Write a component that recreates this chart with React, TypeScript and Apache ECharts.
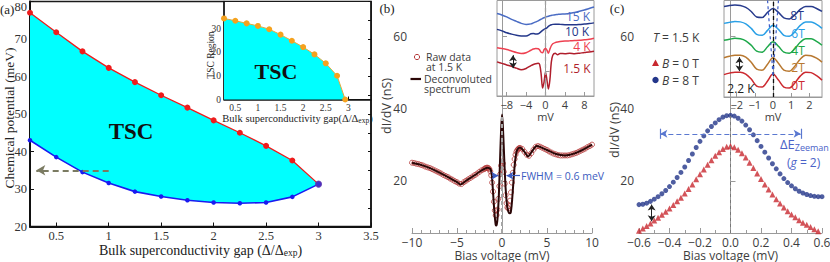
import React, { useEffect, useRef } from "react";
import * as echarts from "echarts";

// ---------- Panel (a) ----------
const gapA = [0.25, 0.5, 0.75, 1, 1.25, 1.5, 1.75, 2, 2.25, 2.5, 2.75, 3];
const upperMu = [77, 71.8, 66.7, 62.3, 58.5, 55, 51.7, 48.3, 45, 41.5, 37.6, 31.3];
const lowerMu = [43, 38.5, 34.5, 31.6, 29.3, 28, 27, 26.4, 26.2, 26.4, 27.9, 31.3];
const xTicksA = [0.5, 1, 1.5, 2, 2.5, 3, 3.5];
const yTicksA = [20, 30, 40, 50, 60, 70];
const gapInset = [0.25, 0.5, 0.75, 1, 1.25, 1.5, 1.75, 2, 2.25, 2.5, 2.75, 2.93];
const tscRegion = [34.5, 33.5, 32.4, 31.3, 29.9, 27.6, 25, 22.3, 19.2, 15.4, 10.1, 0];
const xTicksInsetA = [0.5, 1, 1.5, 2, 2.5, 3];
const yTicksInsetA = [0, 10, 20, 30];

// ---------- Panel (b) ----------
const rawBias = [
  -10, -9.75, -9.5, -9.25, -9, -8.75, -8.5, -8.25, -8, -7.75, -7.5, -7.25, -7, -6.75, -6.5, -6.25, -6,
  -5.75, -5.5, -5.25, -5, -4.75, -4.5, -4.25, -4, -3.75, -3.5, -3.25, -3, -2.75, -2.5, -2.25, -2,
  -1.9, -1.8, -1.7, -1.6, -1.5, -1.4, -1.3, -1.2, -1.1, -1, -0.9, -0.8, -0.7, -0.6, -0.5, -0.4, -0.3,
  -0.2, -0.1, 0, 0.1, 0.2, 0.3, 0.4, 0.5, 0.6, 0.7, 0.8, 0.9, 1, 1.1, 1.2, 1.3, 1.4, 1.5, 1.6, 1.7, 1.8, 1.9,
  2, 2.25, 2.5, 2.75, 3, 3.25, 3.5, 3.75, 4, 4.25, 4.5, 4.75, 5, 5.25, 5.5, 5.75, 6, 6.25, 6.5, 6.75,
  7, 7.25, 7.5, 7.75, 8, 8.25, 8.5, 8.75, 9, 9.25, 9.5, 9.75, 10,
];
const rawDidv = [
  25.0, 24.9, 24.7, 24.6, 24.4, 24.2, 23.9, 23.7, 23.5, 23.2, 22.9, 22.6, 22.3, 22.0, 21.6, 21.3, 21.0,
  20.6, 20.3, 19.9, 19.6, 19.2, 19.1, 19.6, 20.0, 20.4, 20.8, 21.2, 21.6, 22.0, 22.5, 22.9, 23.2,
  23.4, 23.5, 23.6, 23.6, 23.5, 23.2, 22.6, 21.5, 19.5, 17.0, 14.2, 11.8, 10.4, 10.5, 12.0, 15.0, 18.5,
  21.8, 24.2, 25.3, 24.8, 22.5, 19.2, 16.0, 13.8, 12.6, 12.4, 13.0, 14.5, 16.8, 19.5, 22.2, 24.4, 26.0, 27.2, 28.0, 28.5, 28.8, 29.0,
  29.1, 28.8, 28.0, 27.2, 26.9, 27.6, 28.6, 29.4, 29.6, 29.4, 29.1, 28.8, 28.5, 28.1, 27.8, 27.5, 27.3, 27.1, 27.0, 27.0,
  27.0, 27.0, 27.1, 27.3, 27.5, 27.7, 28.0, 28.3, 28.6, 28.9, 29.3, 29.6, 30.0,
];
const deconvBias = [
  -10, -9, -8, -7, -6, -5, -4.6, -4, -3, -2.5, -2, -1.6, -1.3, -1.15, -1.0, -0.85, -0.7, -0.6, -0.5, -0.35,
  -0.2, -0.1, 0, 0.1, 0.25, 0.4, 0.55, 0.7, 0.85, 0.97, 1.1, 1.25, 1.4, 1.55, 1.7, 2, 2.5, 2.9, 3.3, 3.85,
  4.3, 5, 6, 7, 8, 9, 10,
];
const deconvDidv = [
  25, 24.4, 23.5, 22.3, 21, 19.6, 19, 20, 21.6, 22.5, 23.2, 23.6, 23.3, 22, 17, 11.5, 7.8, 7.6, 9.5, 16,
  27, 34, 38.3, 35, 26, 18, 13.5, 11.5, 11, 11.2, 14, 19, 24, 27.2, 28.6, 29.2, 28, 26.7, 28, 29.6,
  29.3, 28.5, 27.4, 27, 27.5, 28.6, 30,
];
const yTicksBC = [20, 40, 60];

// inset (b): offset spectra (arbitrary units)
const insetBiasB = [-10, -9, -8, -7, -6, -5, -4, -3, -2.5, -2, -1.5, -1.2, -0.9, -0.6, -0.3, 0, 0.3, 0.6, 0.9, 1.2, 1.5, 2, 2.5, 3, 4, 5, 6, 7, 8, 9, 10];
const spec15K = [83, 81.5, 79.5, 77, 75, 73, 72, 72.5, 73.5, 74.5, 75.5, 76.5, 77.2, 78, 78.7, 79.3, 79.8, 80.2, 80.7, 81, 81.3, 81.7, 82, 82.3, 82.5, 83, 84, 85.2, 86.5, 88, 89.5];
const spec10K = [67, 65.5, 63.5, 62.2, 61, 60.3, 60.2, 62.5, 62.8, 62.2, 62.5, 63.5, 64.7, 66, 67, 67.7, 68.5, 70, 71, 71.7, 72, 72.2, 72.2, 72, 71.7, 71.5, 71.5, 71.8, 72.3, 72.8, 73.5];
const spec4K = [48.5, 47.7, 46.7, 45.2, 43.7, 42.7, 43.5, 46, 47.2, 47.8, 47.5, 46.2, 44, 43.5, 46.5, 48, 46, 43, 47, 50.5, 52.5, 53.7, 54.3, 54.7, 55.2, 55.5, 55.8, 56, 56.5, 57, 58];
const spec1p5K = [34.3, 32.8, 31.2, 29.8, 28, 26.3, 27.7, 30.5, 31.7, 32.5, 32.8, 31.5, 22, 8, 14, 24, 16, 7, 16, 34, 41, 43, 41.5, 42.7, 42.5, 43, 42.5, 43, 43.7, 44.2, 45];
const xTicksInsetB = [-8, -4, 0, 4, 8];

// ---------- Panel (c) ----------
const biasC = [
  -0.6, -0.575, -0.55, -0.525, -0.5, -0.475, -0.45, -0.425, -0.4, -0.375, -0.35, -0.325, -0.3, -0.275, -0.25,
  -0.225, -0.2, -0.175, -0.15, -0.125, -0.1, -0.075, -0.05, -0.025, 0, 0.025, 0.05, 0.075, 0.1, 0.125, 0.15,
  0.175, 0.2, 0.225, 0.25, 0.275, 0.3, 0.325, 0.35, 0.375, 0.4, 0.425, 0.45, 0.475, 0.5, 0.525, 0.55, 0.575, 0.6,
];
const didv0T = [
  6.2, 6.8, 7.5, 8.2, 9.0, 9.8, 10.6, 11.4, 12.3, 13.3, 14.3, 15.3, 16.5, 17.7, 19.0,
  20.4, 21.8, 23.1, 24.4, 25.7, 26.9, 27.9, 28.8, 29.4, 29.6, 29.3, 28.6, 27.6, 26.4, 25.0, 23.5,
  22.0, 20.5, 19.0, 17.6, 16.2, 14.9, 13.7, 12.6, 11.6, 10.7, 9.9, 9.1, 8.4, 7.8, 7.2, 6.6, 6.0, 5.5,
];
const didv8T = [
  13.4, 13.5, 13.8, 14.3, 14.9, 15.6, 16.4, 17.3, 18.4, 19.6, 20.9, 22.3, 23.8, 25.6, 27.4,
  29.2, 30.9, 32.4, 33.8, 35.0, 36.0, 36.9, 37.6, 38.0, 38.1, 37.9, 37.3, 36.5, 35.4, 34.1, 32.7,
  31.1, 29.5, 27.9, 26.3, 24.7, 23.3, 21.9, 20.6, 19.5, 18.6, 17.8, 17.1, 16.6, 16.2, 15.9, 15.7, 15.6, 15.6,
];

// inset (c): offset spectra at 2.2 K
const insetBiasC = [-2.7, -2.4, -2.1, -1.8, -1.5, -1.2, -0.9, -0.6, -0.3, 0, 0.3, 0.6, 0.9, 1.2, 1.5, 1.8, 2.1, 2.4, 2.7];
const spec0T = [22.5, 24, 25, 25, 23, 18, 11, 10, 16, 23, 17, 10, 9, 14, 21, 25, 24.5, 21.5, 17];
const spec2T = [39.5, 41, 42, 42, 40, 35, 28, 27, 33, 39.5, 34, 27, 26, 31, 38, 42, 41.5, 39, 35];
const spec4T = [57, 58, 59, 58.5, 56.5, 52, 46, 45, 50.5, 55.5, 51, 45, 44, 48.5, 55, 58.5, 58.5, 56, 52];
const spec6T = [74, 75, 76, 75.5, 73.5, 69, 63, 62, 67, 72, 68, 62, 61, 65.5, 72, 75.5, 75.5, 73, 69];
const spec8T = [91, 92, 92.5, 92, 90, 86, 80.5, 80, 85, 89, 85, 79.5, 78.5, 82.5, 88, 91, 91, 89, 86];
const xTicksInsetC = [-2, -1, 0, 1, 2];

const serif = '"Liberation Serif", "Times New Roman", serif';
const sans = '"Open Sans", "Noto Sans", sans-serif';
const CYAN = "#00ffff";
const GREY = "#9a9a9a";
const TXT = "#3d3d3d";

const pairs = (xs: number[], ys: number[]) => xs.map((x, i) => [x, ys[i]]);
const minus = (v: number) => (v < 0 ? "\u2212" : "") + Math.abs(v);
const minus1 = (v: number) => (v < 0 ? "\u2212" : "") + Math.abs(v).toFixed(1);

const seg = (a: number[], b: number[], s0: string, s1: string, lineStyle: any, symbolSize: any = [7, 8]) => [
  { coord: a, symbol: s0, symbolSize, lineStyle },
  { coord: b, symbol: s1, symbolSize },
];

function buildOption(): any {
  const last = gapA.length - 1;
  const sansAxisX = (gridIndex: number, extra: any) => ({
    gridIndex,
    type: "value",
    nameMoveOverlap: false,
    axisLine: { lineStyle: { color: GREY, width: 1 } },
    axisTick: { inside: true, length: 5, lineStyle: { color: GREY } },
    splitLine: { show: false },
    nameTextStyle: { fontFamily: sans, fontSize: 12, color: TXT, lineHeight: 12 },
    ...extra,
  });
  const italic = { i: { fontFamily: sans, fontSize: 12, fontStyle: "italic", fill: TXT } };

  return {
    animation: false,
    backgroundColor: "#fff",
    grid: [
      { left: 30, top: 1.5, width: 341, height: 225, show: true, borderColor: "#1a1a1a", borderWidth: 1.5, backgroundColor: "transparent", outerBoundsMode: "none" },
      { left: 224, top: 1.5, width: 147, height: 98, show: true, borderColor: "#1a1a1a", borderWidth: 1, backgroundColor: "#fff", outerBoundsMode: "none" },
      { left: 412, top: 0, width: 180, height: 233, outerBoundsMode: "none" },
      { left: 497, top: 0.5, width: 97, height: 95.5, show: true, borderColor: GREY, borderWidth: 1, backgroundColor: "#fff", outerBoundsMode: "none" },
      { left: 639, top: 0, width: 183, height: 233, outerBoundsMode: "none" },
      { left: 724, top: 0.5, width: 98, height: 96.5, show: true, borderColor: GREY, borderWidth: 1, backgroundColor: "#fff", outerBoundsMode: "none" },
    ],
    xAxis: [
      {
        gridIndex: 0, type: "value", min: 0.25, max: 3.5, nameMoveOverlap: false,
        axisLine: { lineStyle: { color: "#111", width: 2 } },
        axisTick: { inside: true, length: 4, customValues: xTicksA, lineStyle: { color: "#111" } },
        axisLabel: { customValues: xTicksA, fontFamily: serif, fontSize: 12.5, color: "#333", margin: 3, lineHeight: 13 },
        splitLine: { show: false },
        name: "Bulk superconductivity gap (\u0394/\u0394{s|exp})",
        nameLocation: "middle", nameGap: 17,
        nameTextStyle: { fontFamily: serif, fontSize: 14, color: "#222", lineHeight: 14, rich: { s: { fontFamily: serif, fontSize: 9.5, color: "#222", lineHeight: 10, padding: [4, 0, 0, 0] } } },
      },
      {
        gridIndex: 1, type: "value", min: 0.25, max: 3.5, nameMoveOverlap: false,
        axisLine: { lineStyle: { color: "#111", width: 1.5 } },
        axisTick: { inside: true, length: 3, customValues: xTicksInsetA, lineStyle: { color: "#111" } },
        axisLabel: { customValues: xTicksInsetA, fontFamily: serif, fontSize: 9.5, color: "#333", margin: 3, lineHeight: 10 },
        splitLine: { show: false },
        name: "Bulk superconductivity gap(\u0394/\u0394{s|exp})",
        nameLocation: "middle", nameGap: 13,
        nameTextStyle: { fontFamily: serif, fontSize: 10.5, color: "#222", lineHeight: 11, rich: { s: { fontFamily: serif, fontSize: 7.5, color: "#222", lineHeight: 8, padding: [4, 0, 0, 0] } } },
      },
      sansAxisX(2, {
        min: -10, max: 10, interval: 5,
        minorTick: { show: true, splitNumber: 5, length: 3, lineStyle: { color: GREY } },
        axisLabel: { fontFamily: sans, fontSize: 12, color: TXT, margin: 3, lineHeight: 12, formatter: minus },
        name: "Bias voltage (mV)", nameLocation: "middle", nameGap: 16,
      }),
      sansAxisX(3, {
        min: -10, max: 10,
        axisTick: { inside: true, length: 4, customValues: xTicksInsetB, lineStyle: { color: GREY } },
        axisLabel: { customValues: xTicksInsetB, fontFamily: sans, fontSize: 11, color: TXT, margin: 3, lineHeight: 11, formatter: minus },
        name: "mV", nameLocation: "middle", nameGap: 15,
        nameTextStyle: { fontFamily: sans, fontSize: 11, color: TXT, lineHeight: 11 },
      }),
      sansAxisX(4, {
        min: -0.6, max: 0.6, interval: 0.2,
        minorTick: { show: true, splitNumber: 2, length: 3, lineStyle: { color: GREY } },
        axisLabel: { fontFamily: sans, fontSize: 12, color: TXT, margin: 3, lineHeight: 12, formatter: minus1 },
        name: "Bias voltage (mV)", nameLocation: "middle", nameGap: 16,
      }),
      sansAxisX(5, {
        min: -2.7, max: 2.7,
        axisTick: { inside: true, length: 4, customValues: xTicksInsetC, lineStyle: { color: GREY } },
        axisLabel: { customValues: xTicksInsetC, fontFamily: sans, fontSize: 11, color: TXT, margin: 2, lineHeight: 11, formatter: minus },
        name: "mV", nameLocation: "middle", nameGap: 14,
        nameTextStyle: { fontFamily: sans, fontSize: 11, color: TXT, lineHeight: 11 },
      }),
    ],
    yAxis: [
      {
        gridIndex: 0, type: "value", min: 20, max: 80, interval: 10,
        axisLine: { show: true, lineStyle: { color: "#111", width: 2 } },
        axisTick: { inside: true, length: 4, lineStyle: { color: "#111" } },
        axisLabel: { customValues: yTicksA, fontFamily: serif, fontSize: 12.5, color: "#333", margin: 3 },
        splitLine: { show: false },
      },
      {
        gridIndex: 0, type: "value", position: "right", min: 20, max: 80, interval: 5,
        axisLine: { show: true, lineStyle: { color: "#111", width: 1.5 } },
        axisTick: { inside: true, length: 3, lineStyle: { color: "#111" } },
        axisLabel: { show: false }, splitLine: { show: false },
      },
      {
        gridIndex: 1, type: "value", min: 0, max: 41.7,
        axisLine: { show: true, lineStyle: { color: "#111", width: 1.5 } },
        axisTick: { inside: true, length: 3, customValues: yTicksInsetA, lineStyle: { color: "#111" } },
        axisLabel: { customValues: yTicksInsetA, fontFamily: serif, fontSize: 9.5, color: "#333", margin: 3 },
        splitLine: { show: false },
      },
      {
        gridIndex: 2, type: "value", min: 5.55, max: 70,
        axisLine: { show: true, lineStyle: { color: GREY, width: 1 } },
        axisTick: { inside: true, length: 5, customValues: yTicksBC, lineStyle: { color: GREY } },
        axisLabel: { customValues: yTicksBC, fontFamily: sans, fontSize: 12, color: TXT, margin: 5 },
        splitLine: { show: false },
      },
      {
        gridIndex: 3, type: "value", min: 0, max: 96,
        axisLine: { show: true, lineStyle: { color: GREY, width: 1 } },
        axisTick: { inside: true, length: 4, customValues: [25], lineStyle: { color: GREY } },
        axisLabel: { show: false }, splitLine: { show: false },
      },
      {
        gridIndex: 4, type: "value", min: 5.55, max: 70,
        axisLine: { show: true, lineStyle: { color: GREY, width: 1 } },
        axisTick: { inside: true, length: 5, customValues: yTicksBC, lineStyle: { color: GREY } },
        axisLabel: { customValues: yTicksBC, fontFamily: sans, fontSize: 12, color: TXT, margin: 5 },
        splitLine: { show: false },
      },
      {
        gridIndex: 5, type: "value", min: 0, max: 97,
        axisLine: { show: true, lineStyle: { color: GREY, width: 1 } },
        axisTick: { show: false }, axisLabel: { show: false }, splitLine: { show: false },
      },
    ],
    series: [
      // ----- (a) main: TSC region between the two boundaries -----
      {
        type: "custom", xAxisIndex: 0, yAxisIndex: 0, silent: true, z: 1,
        data: [[gapA[0], upperMu[0]]],
        renderItem: (_p: any, api: any) => {
          const top = gapA.map((x, i) => api.coord([x, upperMu[i]]));
          const bottom = gapA.map((x, i) => api.coord([x, lowerMu[i]])).reverse();
          return { type: "polygon", shape: { points: top.concat(bottom) }, style: { fill: CYAN } };
        },
      },
      {
        type: "line", xAxisIndex: 0, yAxisIndex: 0, data: pairs(gapA, upperMu),
        symbol: "circle", symbolSize: 6, itemStyle: { color: "#ee1c1c" }, lineStyle: { color: "#ee1c1c", width: 1.3 }, z: 3,
      },
      {
        type: "line", xAxisIndex: 0, yAxisIndex: 0, data: pairs(gapA, lowerMu),
        symbol: "circle", symbolSize: 4.5, itemStyle: { color: "#1a1af0" }, lineStyle: { color: "#1a1af0", width: 1.6 }, z: 3,
        markLine: {
          silent: true, label: { show: false },
          data: [seg([1.0, 35], [0.31, 35], "none", "arrow", { color: "#7b7b62", type: [6, 4], width: 2 }, [8, 9])],
        },
      },
      {
        type: "scatter", xAxisIndex: 0, yAxisIndex: 0, data: [[gapA[last], upperMu[last]]],
        symbolSize: 7, itemStyle: { color: "#4536c8" }, z: 4,
      },
      // ----- (a) inset -----
      {
        type: "line", xAxisIndex: 1, yAxisIndex: 2, data: pairs(gapInset, tscRegion),
        symbol: "circle", symbolSize: 6, itemStyle: { color: "#f5a21e" }, lineStyle: { color: "#e9a83a", width: 1 },
        areaStyle: { color: CYAN, opacity: 1 }, z: 3,
      },
      // ----- (b) main -----
      {
        type: "scatter", xAxisIndex: 2, yAxisIndex: 3, data: pairs(rawBias, rawDidv),
        symbol: "circle", symbolSize: 5, itemStyle: { color: "rgba(0,0,0,0)", borderColor: "#b5393a", borderWidth: 1 }, z: 2,
        markLine: {
          silent: true, label: { show: false },
          data: [seg([0, 5.55], [0, 38.3], "none", "none", { color: "#a5a5a5", type: [4, 3], width: 2 })],
        },
      },
      {
        type: "line", xAxisIndex: 2, yAxisIndex: 3, data: pairs(deconvBias, deconvDidv), smooth: 0.25,
        symbol: "none", lineStyle: { color: "#2b0707", width: 2 }, z: 3,
        markLine: {
          silent: true, label: { show: false },
          data: [
            seg([-1.1, 21.4], [-0.4, 21.4], "none", "arrow", { color: "#3c5cc0", type: "solid", width: 1.2 }, [6, 7]),
            seg([2.0, 21.4], [0.5, 21.4], "none", "arrow", { color: "#3c5cc0", type: "solid", width: 1.2 }, [6, 7]),
          ],
        },
      },
      // ----- (b) inset -----
      {
        type: "line", xAxisIndex: 3, yAxisIndex: 4, data: pairs(insetBiasB, spec15K), smooth: 0.3, symbol: "none",
        lineStyle: { color: "#4a6cc4", width: 1.5 }, z: 3,
        markLine: {
          silent: true, label: { show: false },
          data: [
            seg([0, 0], [0, 96], "none", "none", { color: "#a0a0a0", type: [4, 3], width: 1.3 }),
            seg([-6.7, 41], [-6.7, 28], "arrow", "arrow", { color: "#222", type: "solid", width: 1 }, [6, 6]),
          ],
        },
      },
      { type: "line", xAxisIndex: 3, yAxisIndex: 4, data: pairs(insetBiasB, spec10K), smooth: 0.3, symbol: "none", lineStyle: { color: "#24378a", width: 1.5 }, z: 3 },
      { type: "line", xAxisIndex: 3, yAxisIndex: 4, data: pairs(insetBiasB, spec4K), smooth: 0.3, symbol: "none", lineStyle: { color: "#ee4050", width: 1.5 }, z: 3 },
      { type: "line", xAxisIndex: 3, yAxisIndex: 4, data: pairs(insetBiasB, spec1p5K), smooth: 0.3, symbol: "none", lineStyle: { color: "#b01e2c", width: 1.5 }, z: 3 },
      // ----- (c) main -----
      {
        type: "scatter", xAxisIndex: 4, yAxisIndex: 5, data: pairs(biasC, didv0T),
        symbol: "triangle", symbolSize: 6, itemStyle: { color: "#c8282f" }, z: 3,
        markLine: {
          silent: true, label: { show: false },
          data: [
            seg([0, 5.55], [0, 38], "none", "none", { color: "#777", type: [3, 3], width: 1 }),
            seg([-0.517, 8.8], [-0.517, 13.4], "arrow", "arrow", { color: "#222", type: "solid", width: 1 }, [6, 6]),
          ],
        },
      },
      {
        type: "scatter", xAxisIndex: 4, yAxisIndex: 5, data: pairs(biasC, didv8T),
        symbol: "circle", symbolSize: 5, itemStyle: { color: "#23368a" }, z: 3,
        markLine: {
          silent: true, label: { show: false },
          data: [
            seg([-0.46, 33], [0.46, 33], "arrow", "arrow", { color: "#5a78d0", type: [5, 3], width: 1.2 }, [6, 7]),
            seg([-0.463, 31.6], [-0.463, 34.4], "none", "none", { color: "#5a78d0", type: "solid", width: 1.2 }),
            seg([0.463, 31.6], [0.463, 34.4], "none", "none", { color: "#5a78d0", type: "solid", width: 1.2 }),
          ],
        },
      },
      // ----- (c) inset -----
      {
        type: "line", xAxisIndex: 5, yAxisIndex: 6, data: pairs(insetBiasC, spec0T), smooth: 0.35, symbol: "none",
        lineStyle: { color: "#cc2a30", width: 1.5 }, z: 3,
        markLine: {
          silent: true, label: { show: false },
          data: [
            seg([0, 0], [0, 97], "none", "none", { color: "#111", type: [4, 3], width: 1.3 }),
            seg([0, 22], [-0.3, 97], "none", "none", { color: "#3c5cc8", type: [3, 3], width: 1.2 }),
            seg([0, 22], [0.3, 97], "none", "none", { color: "#3c5cc8", type: [3, 3], width: 1.2 }),
            seg([-1.85, 40], [-1.85, 26], "arrow", "arrow", { color: "#222", type: "solid", width: 1 }, [6, 6]),
          ],
        },
      },
      { type: "line", xAxisIndex: 5, yAxisIndex: 6, data: pairs(insetBiasC, spec2T), smooth: 0.35, symbol: "none", lineStyle: { color: "#b87830", width: 1.5 }, z: 3 },
      { type: "line", xAxisIndex: 5, yAxisIndex: 6, data: pairs(insetBiasC, spec4T), smooth: 0.35, symbol: "none", lineStyle: { color: "#1ea84a", width: 1.5 }, z: 3 },
      { type: "line", xAxisIndex: 5, yAxisIndex: 6, data: pairs(insetBiasC, spec6T), smooth: 0.35, symbol: "none", lineStyle: { color: "#2aa0e6", width: 1.5 }, z: 3 },
      { type: "line", xAxisIndex: 5, yAxisIndex: 6, data: pairs(insetBiasC, spec8T), smooth: 0.35, symbol: "none", lineStyle: { color: "#263a8c", width: 1.5 }, z: 3 },
    ],
    graphic: [
      { type: "text", x: 0, y: 9, style: { text: "(a)", font: `13px ${serif}`, fill: "#222", align: "left", verticalAlign: "middle" } },
      { type: "text", x: 27, y: 6.5, style: { text: "80", font: `12.5px ${serif}`, fill: "#333", align: "right", verticalAlign: "middle" } },
      { type: "text", x: 387, y: 8, style: { text: "(b)", font: `13px ${serif}`, fill: "#222", align: "center", verticalAlign: "middle" } },
      { type: "text", x: 617, y: 8, style: { text: "(c)", font: `13px ${serif}`, fill: "#222", align: "center", verticalAlign: "middle" } },
      { type: "text", x: 9, y: 118, rotation: Math.PI / 2, style: { text: "Chemical potential (meV)", font: `13.5px ${serif}`, fill: "#222", align: "center", verticalAlign: "middle" } },
      { type: "text", x: 131, y: 131, z: 20, style: { text: "TSC", font: `bold 23px ${serif}`, fill: "#111", align: "center", verticalAlign: "middle" } },
      { type: "text", x: 276, y: 71, z: 20, style: { text: "TSC", font: `bold 22px ${serif}`, fill: "#111", align: "center", verticalAlign: "middle" } },
      { type: "text", x: 211, y: 55, rotation: Math.PI / 2, z: 20, style: { text: "TSC Region", font: `9.5px ${serif}`, fill: "#222", align: "center", verticalAlign: "middle" } },
      // legend (b)
      { type: "circle", z: 20, shape: { cx: 417, cy: 57, r: 2.6 }, style: { fill: "none", stroke: "#b5393a", lineWidth: 1 } },
      { type: "text", x: 426, y: 51.5, z: 20, style: { text: "Raw data\nat 1.5 K", font: `10.5px ${sans}`, lineHeight: 10.5, fill: TXT, align: "left", verticalAlign: "top" } },
      { type: "line", z: 20, shape: { x1: 410.5, y1: 79, x2: 421, y2: 79 }, style: { stroke: "#2b0707", lineWidth: 2.2 } },
      { type: "text", x: 424, y: 73.5, z: 20, style: { text: "Deconvoluted\nspectrum", font: `10.5px ${sans}`, lineHeight: 10.5, fill: TXT, align: "left", verticalAlign: "top" } },
      { type: "text", x: 521, y: 176, z: 20, style: { text: "FWHM = 0.6 meV", font: `10.5px ${sans}`, fill: "#3c5cc0", align: "left", verticalAlign: "middle" } },
      { type: "text", x: 386, y: 106, rotation: Math.PI / 2, z: 20, style: { text: "dI/dV (nS)", font: `12.5px ${sans}`, fill: TXT, align: "center", verticalAlign: "middle" } },
      // inset (b) labels
      { type: "text", x: 578, y: 16, z: 20, style: { text: "15 K", font: `12px ${sans}`, fill: "#4a6cc4", align: "center", verticalAlign: "middle" } },
      { type: "text", x: 577, y: 31, z: 20, style: { text: "10 K", font: `12px ${sans}`, fill: "#24378a", align: "center", verticalAlign: "middle" } },
      { type: "text", x: 582, y: 46, z: 20, style: { text: "4 K", font: `12px ${sans}`, fill: "#ee4050", align: "center", verticalAlign: "middle" } },
      { type: "text", x: 577, y: 68, z: 20, style: { text: "1.5 K", font: `12px ${sans}`, fill: "#b01e2c", align: "center", verticalAlign: "middle" } },
      // panel (c) texts
      { type: "text", x: 614, y: 130, rotation: Math.PI / 2, z: 20, style: { text: "dI/dV (nS)", font: `12.5px ${sans}`, fill: TXT, align: "center", verticalAlign: "middle" } },
      { type: "text", x: 653, y: 37, z: 20, style: { text: "{i|T} = 1.5 K", font: `12px ${sans}`, fill: TXT, align: "left", verticalAlign: "middle", rich: italic } },
      { type: "polygon", z: 20, shape: { points: [[652, 66], [659, 66], [655.5, 59.5]] }, style: { fill: "#c8282f" } },
      { type: "text", x: 662, y: 63, z: 20, style: { text: "{i|B} = 0 T", font: `12px ${sans}`, fill: TXT, align: "left", verticalAlign: "middle", rich: italic } },
      { type: "circle", z: 20, shape: { cx: 655.5, cy: 80, r: 3.2 }, style: { fill: "#23368a" } },
      { type: "text", x: 662, y: 80, z: 20, style: { text: "{i|B} = 8 T", font: `12px ${sans}`, fill: TXT, align: "left", verticalAlign: "middle", rich: italic } },
      {
        type: "text", x: 780, y: 144, z: 20,
        style: {
          text: "{n|\u0394E}{s|Zeeman}", align: "left", verticalAlign: "middle",
          rich: { n: { fontFamily: sans, fontSize: 13, fill: "#4a62c8" }, s: { fontFamily: sans, fontSize: 9, fill: "#4a62c8", padding: [6, 0, 0, 0] } },
        },
      },
      {
        type: "text", x: 787, y: 162, z: 20,
        style: { text: "({i|g} = 2)", font: `12px ${sans}`, fill: "#4a62c8", align: "left", verticalAlign: "middle", rich: { i: { fontFamily: sans, fontSize: 12, fontStyle: "italic", fill: "#4a62c8" } } },
      },
      // inset (c) labels
      { type: "text", x: 797, y: 15, z: 20, style: { text: "8T", font: `12px ${sans}`, fill: "#263a8c", align: "center", verticalAlign: "middle" } },
      { type: "text", x: 798, y: 33, z: 20, style: { text: "6T", font: `12px ${sans}`, fill: "#2aa0e6", align: "center", verticalAlign: "middle" } },
      { type: "text", x: 798, y: 50, z: 20, style: { text: "4T", font: `12px ${sans}`, fill: "#1ea84a", align: "center", verticalAlign: "middle" } },
      { type: "text", x: 798, y: 67, z: 20, style: { text: "2T", font: `12px ${sans}`, fill: "#b87830", align: "center", verticalAlign: "middle" } },
      { type: "text", x: 798, y: 85, z: 20, style: { text: "0T", font: `12px ${sans}`, fill: "#cc2a30", align: "center", verticalAlign: "middle" } },
      { type: "text", x: 741, y: 88, z: 20, style: { text: "2.2 K", font: `12px ${sans}`, fill: "#222", align: "center", verticalAlign: "middle" } },
    ],
  };
}

export default function App() {
  const ref = useRef<HTMLDivElement>(null);
  useEffect(() => {
    if (!ref.current) return;
    const chart = echarts.init(ref.current, null, { renderer: "svg" });
    chart.setOption(buildOption());
    return () => chart.dispose();
  }, []);
  return (
    <div
      ref={ref}
      style={{ position: "fixed", left: 0, top: 0, width: 830, height: 262, background: "#fff" }}
    />
  );
}
